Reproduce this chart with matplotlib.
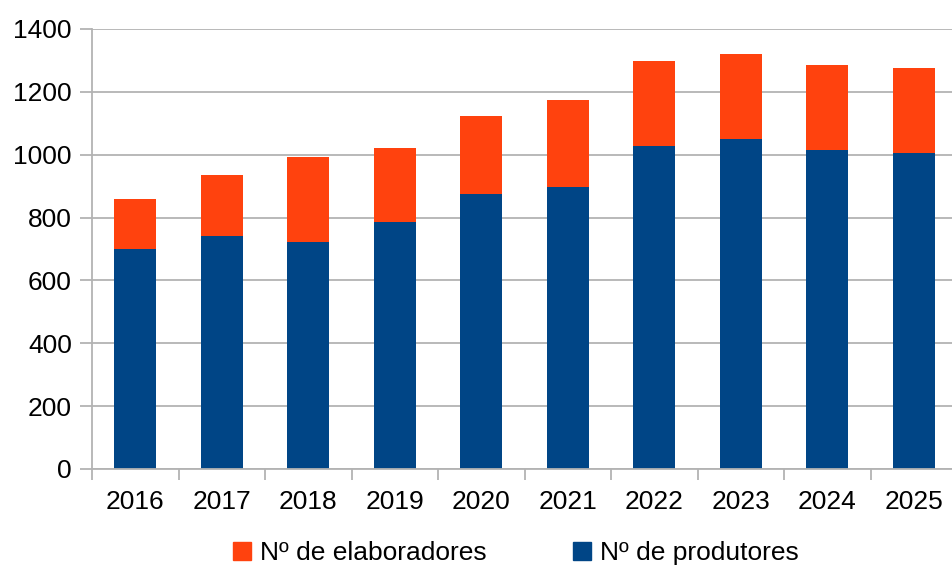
import numpy as np
import matplotlib
matplotlib.use("Agg")
import matplotlib.pyplot as plt
from matplotlib.patches import Patch

# --- Datos ---
anos = ["2016", "2017", "2018", "2019", "2020", "2021", "2022", "2023", "2024", "2025"]
produtores = [701, 742, 722, 785, 875, 896, 1028, 1049, 1014, 1006]
elaboradores = [159, 194, 271, 235, 249, 277, 270, 270, 270, 271]
y_ticks = [0, 200, 400, 600, 800, 1000, 1200, 1400]

COR_PROD = "#004586"
COR_ELAB = "#ff420e"
COR_GRID = "#b3b3b3"

plt.rcParams['font.family'] = ['Liberation Sans', 'DejaVu Sans']

fig = plt.figure(figsize=(9.52, 5.72), dpi=100)
ax = fig.add_axes([92 / 952, 103 / 572, 865 / 952, 440 / 572])

x = np.arange(len(anos))
ax.bar(x, produtores, width=0.48, color=COR_PROD, zorder=3)
ax.bar(x, elaboradores, width=0.48, bottom=produtores, color=COR_ELAB, zorder=3)

ax.set_xlim(-0.5, len(anos) - 0.5)
ax.set_ylim(0, 1400)
ax.set_yticks(y_ticks)
ax.set_yticklabels([str(v) for v in y_ticks])
ax.set_xticks(x)
ax.set_xticklabels(anos)
ax.set_xticks(np.arange(len(anos) + 1) - 0.5, minor=True)

ax.tick_params(axis='x', which='major', length=0, pad=15, labelsize=19)
ax.tick_params(axis='x', which='minor', length=8, width=1.3, color=COR_GRID)
ax.tick_params(axis='y', length=8.5, width=1.3, color=COR_GRID, pad=6, labelsize=19)

ax.yaxis.grid(True, color=COR_GRID, lw=1.3, zorder=0)
for lado in ['top', 'right']:
    ax.spines[lado].set_visible(False)
for lado in ['left', 'bottom']:
    ax.spines[lado].set_color(COR_GRID)
    ax.spines[lado].set_linewidth(1.3)
ax.spines['bottom'].set_zorder(4)

# Lenda debaixo do gráfico
handles = [Patch(color=COR_ELAB, label="Nº de elaboradores"),
           Patch(color=COR_PROD, label="Nº de produtores")]
fig.legend(handles=handles, loc='center', bbox_to_anchor=(516 / 952, 19 / 572),
           ncol=2, frameon=False, fontsize=19, handlelength=0.65, handleheight=0.65,
           handletextpad=0.35, columnspacing=3.3)

fig.savefig("out.png", dpi=100)
